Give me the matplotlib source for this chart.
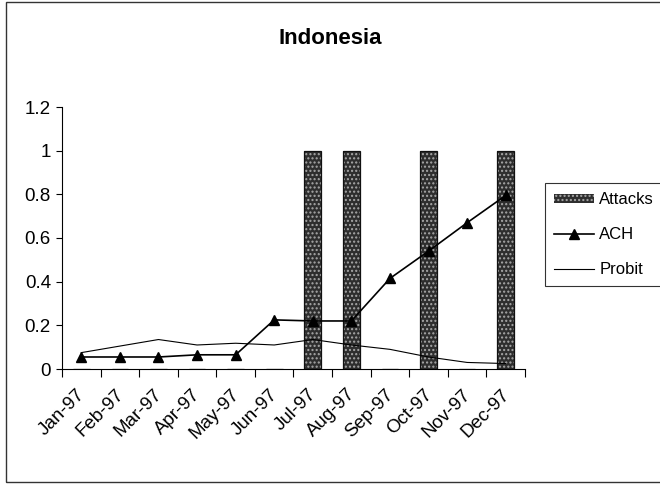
import matplotlib
matplotlib.use("Agg")
import matplotlib.pyplot as plt
import matplotlib.transforms as mtransforms
from matplotlib.patches import Rectangle, Patch
from matplotlib.lines import Line2D

plt.rcParams['font.family'] = ['Liberation Sans', 'DejaVu Sans']

months = ["Jan-97", "Feb-97", "Mar-97", "Apr-97", "May-97", "Jun-97",
          "Jul-97", "Aug-97", "Sep-97", "Oct-97", "Nov-97", "Dec-97"]
attacks = [0, 0, 0, 0, 0, 0, 1, 1, 0, 1, 0, 1]
ach = [0.055, 0.055, 0.055, 0.065, 0.065, 0.225, 0.22, 0.22, 0.415, 0.54, 0.67, 0.795]
probit = [0.075, 0.105, 0.135, 0.11, 0.118, 0.11, 0.135, 0.11, 0.09, 0.055, 0.03, 0.025]
yticks = [0, 0.2, 0.4, 0.6, 0.8, 1, 1.2]
ytick_labels = ["0", "0.2", "0.4", "0.6", "0.8", "1", "1.2"]

BAR_FACE = "#2e2e2e"
BAR_DOTS = "#a8a8a8"

fig = plt.figure(figsize=(6.6, 4.84), dpi=100)
ax = fig.add_axes([62 / 660, 1 - 369 / 484, 463 / 660, 262 / 484])

x = [i + 0.5 for i in range(len(months))]

# attack months as dark stippled bars
ax.bar(x, attacks, width=0.43, color=BAR_FACE, edgecolor=BAR_DOTS,
       hatch="....", linewidth=0, zorder=2)
ax.bar(x, attacks, width=0.43, fill=False, edgecolor="#111111",
       linewidth=0.9, zorder=2)

ax.plot(x, ach, color="black", linewidth=1.2, marker="^", markersize=7.5,
        zorder=3)
ax.plot(x, probit, color="black", linewidth=0.8, zorder=3)

ax.set_xlim(0, 12)
ax.set_ylim(0, 1.2)
ax.set_yticks(yticks)
ax.set_yticklabels(ytick_labels, fontsize=13.5)
ax.set_xticks(range(0, 13))
ax.set_xticklabels([])
ax.set_xticks(x, minor=True)
ax.set_xticklabels(months, minor=True, rotation=45, ha="right",
                   rotation_mode="anchor", fontsize=13.5)
ax.tick_params(axis="x", which="minor", length=0, pad=12)
ax.tick_params(axis="x", which="major", direction="out", length=6, width=0.8)
ax.tick_params(axis="y", direction="out", length=4, width=0.8, pad=4)

# nudge the slanted month labels a little to the left
shift = mtransforms.ScaledTranslation(-5 / 100, 0, fig.dpi_scale_trans)
for lbl in ax.get_xticklabels(minor=True):
    lbl.set_transform(lbl.get_transform() + shift)

for side in ("top", "right"):
    ax.spines[side].set_visible(False)
for side in ("left", "bottom"):
    ax.spines[side].set_linewidth(0.8)

fig.text(0.5, 1 - 39 / 484, "Indonesia", ha="center", va="center",
         fontsize=16, fontweight="bold")

handles = [
    Patch(facecolor=BAR_FACE, edgecolor=BAR_DOTS, hatch="....",
          linewidth=0),
    Line2D([], [], color="black", linewidth=1.2, marker="^", markersize=7.5),
    Line2D([], [], color="black", linewidth=0.8),
]
leg = fig.legend(handles, ["Attacks", "ACH", "Probit"],
                 loc="upper left", bbox_to_anchor=(545 / 660, 1 - 183 / 484),
                 frameon=True, fancybox=False, fontsize=12,
                 handlelength=2.4, handleheight=0.5, handletextpad=0.3,
                 borderpad=0.55, labelspacing=1.2, borderaxespad=0)
leg.get_frame().set_edgecolor("black")
leg.get_frame().set_linewidth(0.8)

fig.patches.append(Rectangle((6 / 660, 2 / 484), 700 / 660, 480 / 484,
                             transform=fig.transFigure, fill=False,
                             edgecolor="#333333", linewidth=1))

fig.savefig("out.png", dpi=100)
